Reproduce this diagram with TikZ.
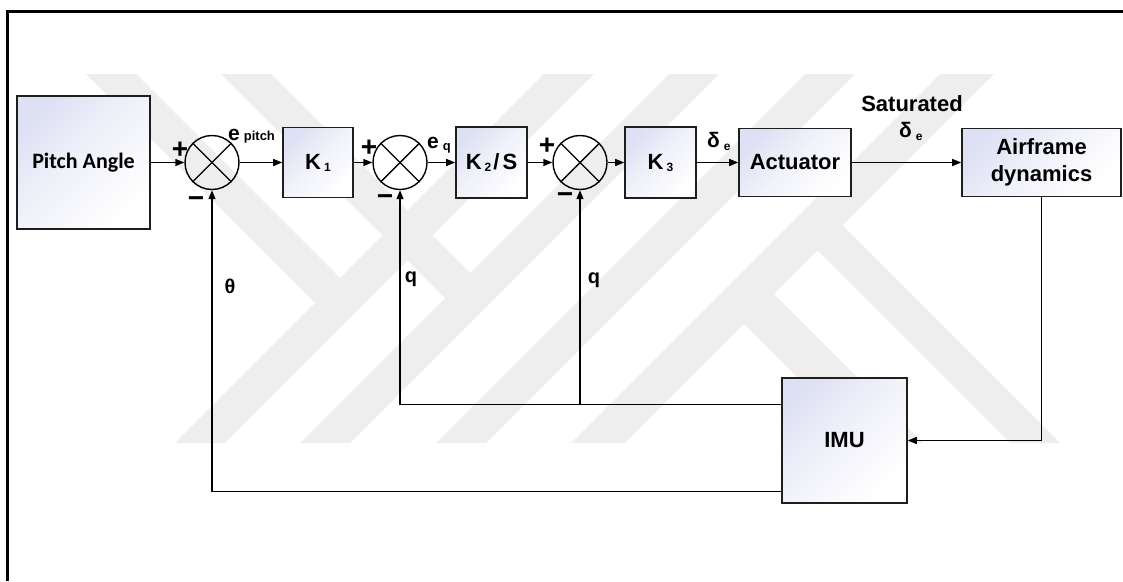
\documentclass[tikz,border=0pt]{standalone}
\usepackage{fontspec}
\setmainfont{Liberation Sans}
\newfontfamily\calibri{Carlito}
\usetikzlibrary{arrows.meta}
\definecolor{boxtop}{RGB}{222,225,243}
\colorlet{boxmid}{boxtop!40!white}
\definecolor{wm}{RGB}{238,238,238}
\definecolor{edge}{RGB}{30,30,30}
\pgfdeclareverticalshading{boxshade}{100bp}{color(0bp)=(white); color(25bp)=(white); color(50bp)=(boxmid); color(75bp)=(boxtop); color(100bp)=(boxtop)}
\tikzset{
  blk/.style={draw=edge, line width=1.6pt, shade, shading=boxshade, shading angle=45,
    inner sep=0pt, align=center, font=\fontsize{22}{27}\selectfont\bfseries},
  sumnode/.style={circle, draw=black, line width=1.4pt, minimum size=54pt, inner sep=0pt},
  conn/.style={line width=1.4pt, draw=black},
  arr/.style={conn, -{Triangle[length=9pt,width=7pt]}},
  lbl/.style={font=\fontsize{21}{24}\selectfont\bfseries, inner sep=0pt},
  small/.style={font=\fontsize{20}{22}\selectfont\bfseries, inner sep=0pt},
  sign/.style={font=\fontsize{28}{28}\selectfont\bfseries, inner sep=0pt},
  band/.style={fill=wm, draw=none},
}
\begin{document}
\begin{tikzpicture}[x=1pt,y=-1pt]
\useasboundingbox (0,0) rectangle (1123,581);
% watermark
\fill[band] (86,74) -- (136,74) -- (340,278) -- (315,303) -- cycle;
\fill[band] (175,443) -- (225,443) -- (594,74) -- (544,74) -- cycle;
\fill[band] (221,74) -- (271,74) -- (470,273) -- (445,298) -- cycle;
\fill[band] (300,443) -- (350,443) -- (719,74) -- (669,74) -- cycle;
\fill[band] (436,443) -- (486,443) -- (855,74) -- (805,74) -- cycle;
\fill[band] (571,443) -- (625,443) -- (994,74) -- (940,74) -- cycle;
\fill[band] (744,324) -- (774,294) -- (923,443) -- (863,443) -- cycle;
\fill[band] (817.5,250.5) -- (842.5,225.5) -- (1060,443) -- (1010,443) -- cycle;
% frame
\draw[line width=3.2pt] (6,11.5) -- (1123,11.5);
\draw[line width=3.2pt] (7.5,10) -- (7.5,581);
% blocks
\node[blk, font=\fontsize{22}{26}\selectfont\calibri\bfseries, minimum width=133pt, minimum height=133pt] (pitch) at (83.5,162.5) {Pitch Angle};
\node[sumnode] (s1) at (212,162.5) {};
\node[blk, minimum width=70pt, minimum height=70pt] (k1) at (318,162.5) {K\hspace{3pt}\raisebox{-2pt}{\fontsize{12}{12}\selectfont 1}};
\node[sumnode] (s2) at (400,162.5) {};
\node[blk, minimum width=71pt, minimum height=71pt] (k2) at (491.5,162.5) {K\hspace{3pt}\raisebox{-2pt}{\fontsize{12}{12}\selectfont 2}\hspace{2pt}/\hspace{3pt}S};
\node[sumnode] (s3) at (580,162.5) {};
\node[blk, minimum width=71pt, minimum height=71pt] (k3) at (660.5,162.5) {K\hspace{3pt}\raisebox{-2pt}{\fontsize{12}{12}\selectfont 3}};
\node[blk, minimum width=112pt, minimum height=68pt] (act) at (795,162.5) {Actuator};
\node[blk, minimum width=159pt, minimum height=68pt] (air) at (1041.5,162.5) {Airframe\\dynamics};
\node[blk, minimum width=125pt, minimum height=125pt] (imu) at (844.5,440.5) {IMU};
% crosses in summing junctions
\foreach \s in {s1,s2,s3}{
  \draw[conn] (\s.45) -- (\s.225);
  \draw[conn] (\s.135) -- (\s.315);
}
% forward path
\draw[arr] (pitch.east) -- (s1.west);
\draw[arr] (s1.east) -- (k1.west);
\draw[arr] (k1.east) -- (s2.west);
\draw[arr] (s2.east) -- (k2.west);
\draw[arr] (k2.east) -- (s3.west);
\draw[arr] (s3.east) -- (k3.west);
\draw[arr] (k3.east) -- (act.west);
\draw[arr] (act.east) -- (air.west);
% feedback
\draw[arr] (air.south) |- (imu.east);
\coordinate (imuq) at (782,404.5);
\coordinate (imut) at (782,491.5);
\coordinate (qj) at (580,404.5);
\draw[arr] (imuq) -| (s2.south);
\draw[arr] (qj) -- (s3.south);
\draw[arr] (imut) -| (s1.south);
% signs
\node[sign] (p1) at (180,150) {+};
\node[sign] (m1) at (196,202) {−};
\node[sign] (p2) at (369,148) {+};
\node[sign] (m2) at (385,200) {−};
\node[sign] (p3) at (547,146) {+};
\node[sign] (m3) at (565,198) {−};
% labels
\node[lbl, anchor=base west] (ep) at (228,140) {e\hspace{4pt}{\fontsize{13}{13}\selectfont pitch}};
\node[lbl, anchor=base west] (eq) at (427,148) {e\hspace{4pt}\raisebox{-2pt}{\fontsize{13}{13}\selectfont q}};
\node[lbl, anchor=base west] (de) at (707,147) {δ\hspace{4pt}\raisebox{-3pt}{\fontsize{12}{12}\selectfont e}};
\node[lbl, font=\fontsize{22}{24}\selectfont\bfseries, anchor=base] (sat) at (912,111) {Saturated};
\node[lbl, anchor=base west] (sde) at (899,137) {δ\hspace{4pt}\raisebox{-3pt}{\fontsize{12}{12}\selectfont e}};
\node[small] (th) at (230,286) {θ};
\node[small] (q1) at (411,279) {q};
\node[small] (q2) at (594,280) {q};
\end{tikzpicture}
\end{document}
